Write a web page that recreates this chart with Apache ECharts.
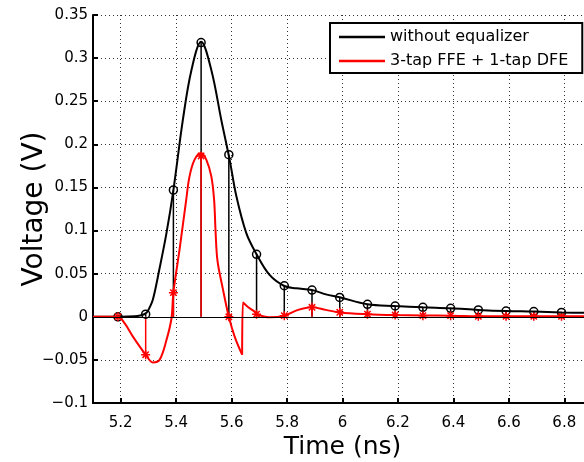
<!DOCTYPE html>
<html>
<head>
<meta charset="utf-8">
<script src="https://cdn.jsdelivr.net/npm/echarts@6/dist/echarts.min.js"></script>
<style>html,body{margin:0;padding:0;background:#fff;}#c{width:584px;height:462px;}</style>
</head>
<body>
<div id="c"></div>
<script>
// ---- data ----
const xTickValues = [5.2, 5.4, 5.6, 5.8, 6.0, 6.2, 6.4, 6.6, 6.8];
const blackName = 'without equalizer';
const redName = '3-tap FFE + 1-tap DFE';
// continuous waveform without equalizer [time ns, volts]
const blackCurve = [
  [5.10, 0], [5.20, 0], [5.25, 0.0005], [5.27, 0.0015], [5.29, 0.004], [5.30, 0.008],
  [5.316, 0.02], [5.34, 0.056], [5.365, 0.097], [5.39, 0.147], [5.424, 0.228],
  [5.455, 0.286], [5.49, 0.319], [5.527, 0.286], [5.563, 0.228], [5.593, 0.182],
  [5.617, 0.14], [5.653, 0.097], [5.69, 0.0725], [5.737, 0.0485], [5.79, 0.0357],
  [5.833, 0.033], [5.89, 0.031], [5.94, 0.026], [5.99, 0.0226], [6.09, 0.0145],
  [6.19, 0.0125], [6.29, 0.011], [6.39, 0.0098], [6.49, 0.008], [6.59, 0.0067],
  [6.69, 0.006], [6.79, 0.005], [6.90, 0.0045]
];
// equalized waveform, before the DFE step
const redCurveA = [
  [5.10, 0], [5.19, 0], [5.215, -0.008], [5.244, -0.023], [5.29, -0.044],
  [5.316, -0.053], [5.34, -0.05], [5.365, -0.027], [5.383, -0.002], [5.39, 0.028],
  [5.412, 0.0775], [5.436, 0.135], [5.448, 0.1625], [5.466, 0.182], [5.49, 0.19],
  [5.509, 0.182], [5.527, 0.1625], [5.537, 0.135], [5.542, 0.1], [5.549, 0.065],
  [5.568, 0.033], [5.59, 0], [5.611, -0.023], [5.638, -0.044]
];
// equalized waveform, after the DFE step
const redCurveB = [
  [5.638, -0.044], [5.641, 0.0165], [5.66, 0.011], [5.683, 0.006], [5.69, 0.003],
  [5.737, -0.0005], [5.79, 0.0013], [5.84, 0.008], [5.888, 0.011], [5.94, 0.008],
  [5.99, 0.005], [6.09, 0.003], [6.19, 0.002], [6.29, 0.0015], [6.39, 0.0013],
  [6.49, 0.0007], [6.59, 0.0006], [6.69, 0.0005], [6.79, 0.0005], [6.90, 0.0005]
];
// sampled values (stems)
const sampleTimes = [5.19, 5.29, 5.39, 5.49, 5.59, 5.69, 5.79, 5.89, 5.99, 6.09, 6.19, 6.29, 6.39, 6.49, 6.59, 6.69, 6.79];
const blackSamples = [0, 0.003, 0.147, 0.318, 0.188, 0.0725, 0.036, 0.031, 0.0225, 0.0145, 0.0125, 0.011, 0.0098, 0.008, 0.0067, 0.006, 0.005];
const redSamples = [0, -0.044, 0.028, 0.1865, 0, 0.003, 0.0013, 0.011, 0.0052, 0.003, 0.002, 0.0013, 0.0013, 0.0005, 0.0005, 0.0005, 0.0005];

// ---- chart ----
const blackPts = sampleTimes.map((t, i) => [t, blackSamples[i]]);
const redPts = sampleTimes.map((t, i) => [t, redSamples[i]]);
const FONT = 'DejaVu Sans';

function stem(color, width) {
  return function (params, api) {
    const p0 = api.coord([api.value(0), 0]);
    const p1 = api.coord([api.value(0), api.value(1)]);
    return { type: 'line', shape: { x1: p0[0], y1: p0[1], x2: p1[0], y2: p1[1] },
             style: { stroke: color, lineWidth: width } };
  };
}
const starPath = 'path://M5,0L5,10M0,5L10,5M1.5,1.5L8.5,8.5M1.5,8.5L8.5,1.5';

const chart = echarts.init(document.getElementById('c'), null, { renderer: 'canvas' });
chart.setOption({
  animation: false,
  backgroundColor: '#fff',
  textStyle: { fontFamily: FONT },
  grid: { left: 93, right: -8, top: 15, bottom: 59, containLabel: false, outerBoundsMode: 'none' },
  legend: {
    data: [{ name: blackName }, { name: redName }],
    orient: 'vertical', left: 330, top: 23,
    icon: 'rect', itemWidth: 46, itemHeight: 2.5, itemGap: 8,
    padding: [6, 14, 4, 9],
    borderColor: '#000', borderWidth: 2, backgroundColor: '#fff',
    textStyle: { fontFamily: FONT, fontSize: 16, color: '#000', padding: [0, 0, 0, 0] },
    selectedMode: false
  },
  xAxis: {
    type: 'value', min: 5.1, max: 6.9,
    name: 'Time (ns)', nameLocation: 'middle', nameGap: 32, nameMoveOverlap: false,
    nameTextStyle: { fontFamily: FONT, fontSize: 25, color: '#000' },
    axisLine: { onZero: false, lineStyle: { color: '#000', width: 2 } },
    axisTick: { inside: true, length: 5, customValues: xTickValues, lineStyle: { color: '#000', width: 2 } },
    axisLabel: { customValues: xTickValues, color: '#000', fontSize: 15, margin: 13,
      formatter: v => String(+(+v).toFixed(1)) },
    splitLine: { show: true, lineStyle: { color: '#333', width: 1, type: [1, 3] } }
  },
  yAxis: {
    type: 'value', min: -0.1, max: 0.35, interval: 0.05,
    name: 'Voltage (V)', nameLocation: 'middle', nameGap: 44, nameMoveOverlap: false,
    nameTextStyle: { fontFamily: FONT, fontSize: 28, color: '#000' },
    axisLine: { lineStyle: { color: '#000', width: 2 } },
    axisTick: { inside: true, length: 5, lineStyle: { color: '#000', width: 2 } },
    axisLabel: { color: '#000', fontSize: 15, margin: 5,
      formatter: v => String(+(+v).toFixed(2)).replace('-', '\u2212') },
    splitLine: { show: true, lineStyle: { color: '#333', width: 1, type: [1, 3] } }
  },
  series: [
    { name: blackName, type: 'line', data: blackCurve, showSymbol: false, symbol: 'none',
      smooth: 0.35, lineStyle: { color: '#000', width: 2 }, itemStyle: { color: '#000' },
      markLine: { silent: true, symbol: 'none', label: { show: false },
        lineStyle: { color: '#000', width: 1, type: 'solid' }, data: [{ yAxis: 0 }] } },
    { name: 'black stems', type: 'custom', data: blackPts, renderItem: stem('#000', 1.5),
      encode: { x: 0, y: 1 } },
    { name: 'black samples', type: 'scatter', data: blackPts, symbol: 'circle', symbolSize: 8,
      itemStyle: { color: 'rgba(0,0,0,0)', borderColor: '#000', borderWidth: 1.5, opacity: 1 } },
    { name: redName, type: 'line', data: redCurveA, showSymbol: false, symbol: 'none',
      smooth: 0.35, lineStyle: { color: '#ff0000', width: 2 }, itemStyle: { color: '#ff0000' } },
    { name: redName, type: 'line', data: redCurveB, showSymbol: false, symbol: 'none',
      smooth: 0.35, lineStyle: { color: '#ff0000', width: 2 }, itemStyle: { color: '#ff0000' } },
    { name: 'red stems', type: 'custom', data: redPts, renderItem: stem('#ff0000', 1.5),
      encode: { x: 0, y: 1 } },
    { name: 'red samples', type: 'scatter', data: redPts, symbol: starPath, symbolSize: 9,
      itemStyle: { color: 'rgba(0,0,0,0)', borderColor: '#ff0000', borderWidth: 1.5, opacity: 1 } }
  ]
});
</script>
</body>
</html>
